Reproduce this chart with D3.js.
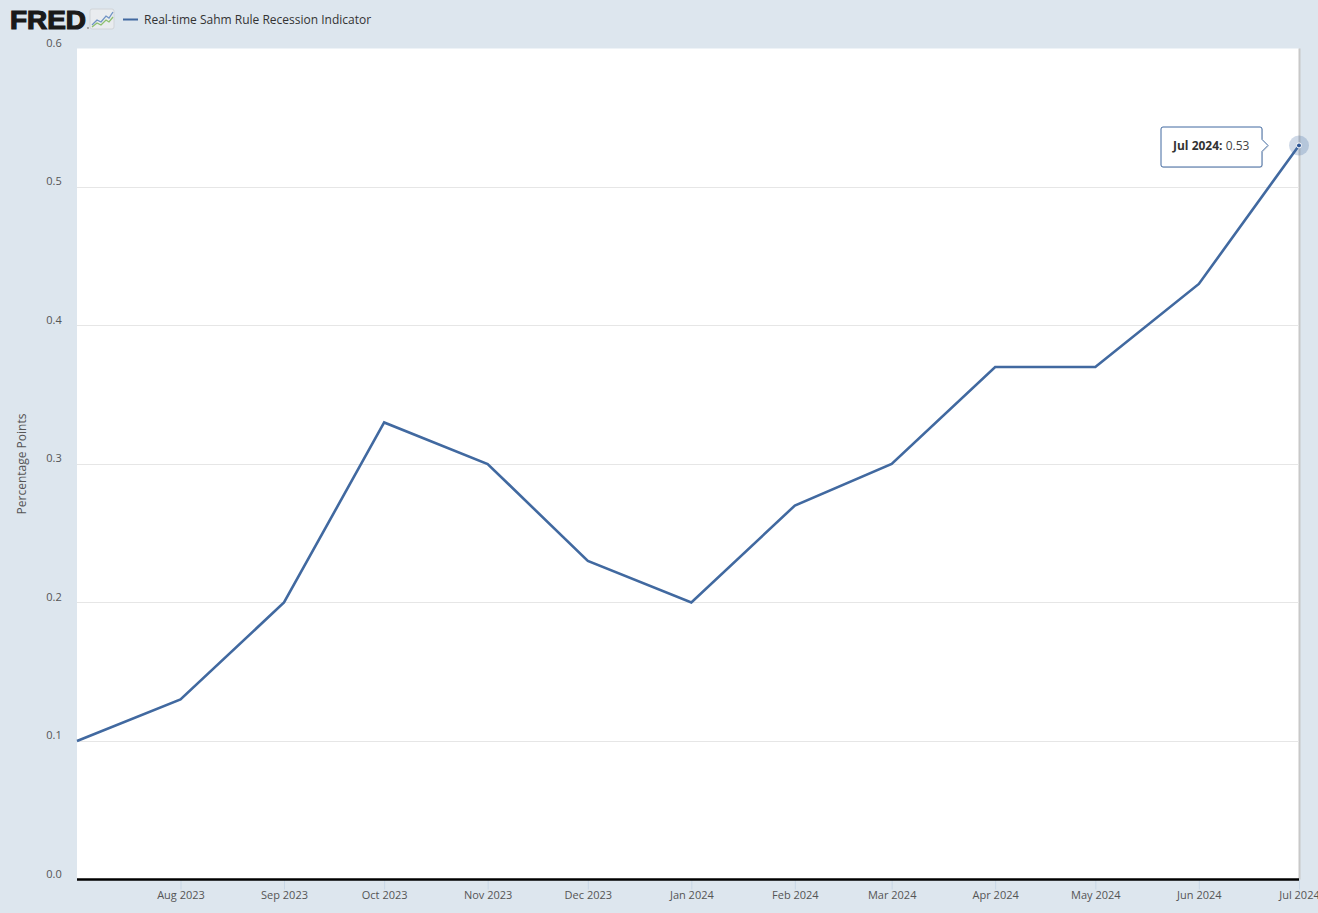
<!DOCTYPE html>
<html>
<head>
<meta charset="utf-8">
<script src="https://cdn.jsdelivr.net/npm/d3@7"></script>
<style>
  html, body { margin: 0; padding: 0; background: #dde6ee; }
  svg { display: block; font-family: "Open Sans", "Noto Sans", sans-serif; }
</style>
</head>
<body>
<svg id="chart" width="1318" height="913"></svg>
<script>
const seriesName = "Real-time Sahm Rule Recession Indicator";
const months = ["2023-07","2023-08","2023-09","2023-10","2023-11","2023-12","2024-01","2024-02","2024-03","2024-04","2024-05","2024-06","2024-07"];
const values = [0.10, 0.13, 0.20, 0.33, 0.30, 0.23, 0.20, 0.27, 0.30, 0.37, 0.37, 0.43, 0.53];
const yTicks = [0.0, 0.1, 0.2, 0.3, 0.4, 0.5, 0.6];
const xTickMonths = ["2023-08","2023-09","2023-10","2023-11","2023-12","2024-01","2024-02","2024-03","2024-04","2024-05","2024-06","2024-07"];
const yAxisTitle = "Percentage Points";
const tooltipLabel = "Jul 2024:";
const tooltipValue = "0.53";

const parse = d3.timeParse("%Y-%m");
const data = months.map((m, i) => ({ date: parse(m), value: values[i] }));

const svg = d3.select("#chart");
const W = 1318, H = 913;
const plot = { left: 77, right: 1299, top: 48.5, bottom: 879.5 };

svg.append("rect").attr("width", W).attr("height", H).attr("fill", "#dde6ee");

const x = d3.scaleTime()
  .domain(d3.extent(data, d => d.date))
  .range([plot.left, plot.right]);
const y = d3.scaleLinear().domain([0, 0.6]).range([plot.bottom, plot.top]);

// plot background
svg.append("rect")
  .attr("x", plot.left).attr("y", plot.top)
  .attr("width", plot.right - plot.left).attr("height", plot.bottom - plot.top)
  .attr("fill", "#ffffff");
// right border
svg.append("line")
  .attr("x1", plot.right + 0.5).attr("x2", plot.right + 0.5)
  .attr("y1", plot.top).attr("y2", plot.bottom)
  .attr("stroke", "#c8c8c8").attr("stroke-width", 2);

// gridlines
svg.append("g").selectAll("line").data(yTicks.filter(t => t > 0 && t < 0.6)).join("line")
  .attr("x1", plot.left).attr("x2", plot.right)
  .attr("y1", d => Math.round(y(d)) + 0.5).attr("y2", d => Math.round(y(d)) + 0.5)
  .attr("stroke", "#e6e6e6").attr("stroke-width", 1);

// y labels
svg.append("g").selectAll("text").data(yTicks).join("text")
  .attr("x", 54).attr("y", d => y(d) - 2)
  .attr("text-anchor", "middle")
  .attr("font-size", 11).attr("fill", "#555")
  .text(d => d.toFixed(1));

// y axis title
svg.append("text")
  .attr("transform", `translate(26,${(plot.top + plot.bottom) / 2}) rotate(-90)`)
  .attr("text-anchor", "middle")
  .attr("font-size", 12).attr("fill", "#555")
  .text(yAxisTitle);

// x axis
const xAxis = d3.axisBottom(x)
  .tickValues(xTickMonths.map(parse))
  .tickFormat(d3.timeFormat("%b %Y"))
  .tickSize(10).tickPadding(2);
const gx = svg.append("g").attr("transform", `translate(0,${plot.bottom})`).call(xAxis);
gx.select(".domain").remove();
gx.selectAll(".tick line").attr("stroke", "#c8d7e6").attr("stroke-width", 1);
gx.selectAll(".tick text").attr("font-size", 11).attr("fill", "#555")
  .attr("font-family", "'Open Sans', sans-serif");
// baseline
svg.append("line")
  .attr("x1", plot.left).attr("x2", plot.right)
  .attr("y1", plot.bottom).attr("y2", plot.bottom)
  .attr("stroke", "#000").attr("stroke-width", 2.5);

// series line
const line = d3.line().x(d => x(d.date)).y(d => y(d.value));
svg.append("path").datum(data)
  .attr("d", line)
  .attr("fill", "none")
  .attr("stroke", "#4169a0")
  .attr("stroke-width", 2.6)
  .attr("stroke-linejoin", "miter");

// hover marker
const last = data[data.length - 1];
svg.append("circle").attr("cx", x(last.date)).attr("cy", y(last.value)).attr("r", 10)
  .attr("fill", "#4169a0").attr("fill-opacity", 0.25);
svg.append("circle").attr("cx", x(last.date)).attr("cy", y(last.value)).attr("r", 2.5)
  .attr("fill", "#2f5796").attr("stroke", "#fff").attr("stroke-width", 1);

// tooltip
const tx = 1161, ty = 127, tw = 101, th = 40;
const cy = y(last.value);
const tipPath = `M${tx + 2},${ty} L${tx + tw - 2},${ty} Q${tx + tw},${ty} ${tx + tw},${ty + 2}
  L${tx + tw},${cy - 6} L${tx + tw + 6},${cy} L${tx + tw},${cy + 6}
  L${tx + tw},${ty + th - 2} Q${tx + tw},${ty + th} ${tx + tw - 2},${ty + th}
  L${tx + 2},${ty + th} Q${tx},${ty + th} ${tx},${ty + th - 2} L${tx},${ty + 2} Q${tx},${ty} ${tx + 2},${ty} Z`;
svg.append("path").attr("d", tipPath).attr("fill", "#000").attr("opacity", 0.08)
  .attr("transform", "translate(1,1)");
svg.append("path").attr("d", tipPath)
  .attr("fill", "#ffffff").attr("stroke", "#4169a0").attr("stroke-width", 1);
const tt = svg.append("text").attr("x", tx + 12).attr("y", cy + 5)
  .attr("font-size", 12).attr("fill", "#333");
tt.append("tspan").attr("font-weight", "bold").text(tooltipLabel);
tt.append("tspan").attr("fill", "#444").text(" " + tooltipValue);

// FRED logo
svg.append("text").attr("x", 10).attr("y", 29)
  .attr("font-family", "'Liberation Sans', Arial, sans-serif")
  .attr("font-weight", 900).attr("font-size", 25.5)
  .attr("fill", "#1a1a1a")
  .attr("stroke", "#1a1a1a").attr("stroke-width", 1.2)
  .attr("textLength", 76).attr("lengthAdjust", "spacingAndGlyphs")
  .text("FRED");
svg.append("circle").attr("cx", 88).attr("cy", 28).attr("r", 0.9).attr("fill", "#888");
const icon = svg.append("g").attr("transform", "translate(90,9)");
icon.append("rect").attr("width", 24).attr("height", 20).attr("rx", 2).attr("fill", "#e9ecef")
  .attr("stroke", "#d0d4d8");
icon.append("path").attr("d", "M2,16 L7,11 L11,13 L16,7 L19,9 L23,3")
  .attr("fill", "none").attr("stroke", "#6f93c4").attr("stroke-width", 1.3);
icon.append("path").attr("d", "M2,18 L7,14 L11,16 L16,11 L19,13 L23,8")
  .attr("fill", "none").attr("stroke", "#8cbf6e").attr("stroke-width", 1.3);

// legend
svg.append("line").attr("x1", 123).attr("x2", 138).attr("y1", 19.5).attr("y2", 19.5)
  .attr("stroke", "#4169a0").attr("stroke-width", 2);
svg.append("text").attr("x", 144).attr("y", 24)
  .attr("font-size", 12).attr("fill", "#333")
  .text(seriesName);
</script>
</body>
</html>
